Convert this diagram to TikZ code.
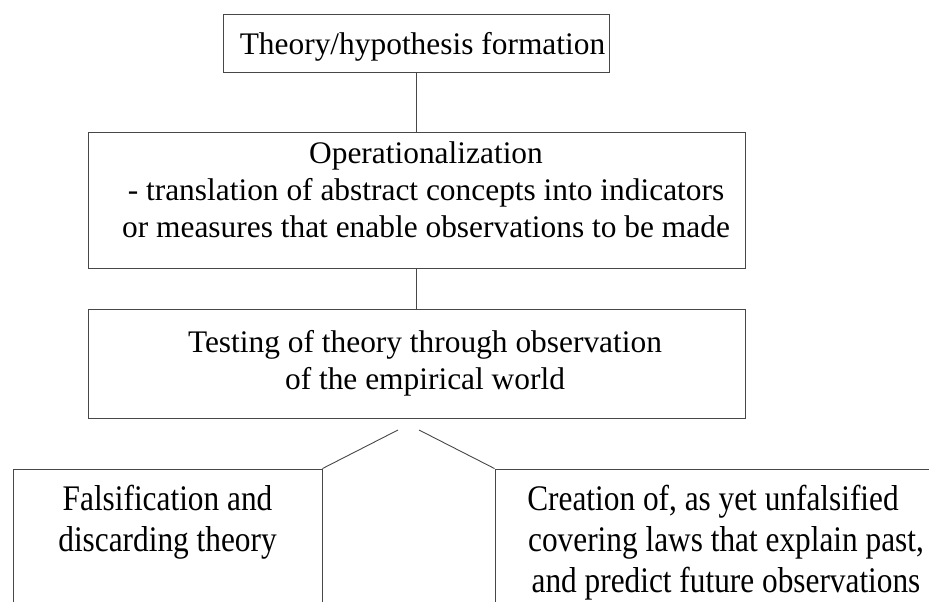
\documentclass[tikz,border=0pt]{standalone}
\usepackage{fontspec}
\setmainfont{Liberation Serif}
% narrower, taller serif used in the two outcome boxes
\newfontfamily\tallserif[FakeStretch=0.87]{Liberation Serif}
\begin{document}
\begin{tikzpicture}[x=1pt,y=-1pt,
  frame/.style={draw=black!72, line width=0.9pt, rectangle, inner sep=0pt},
  link/.style={draw=black!72, line width=0.9pt},
  body/.style={inner sep=0pt, align=center, font=\fontsize{31.4}{37}\selectfont},
  lower/.style={inner sep=0pt, align=center, font=\tallserif\fontsize{36}{41}\selectfont}]
\useasboundingbox (0,0) rectangle (929,602);
\clip (0,0) rectangle (929,602);

% boxes
\node[frame, minimum width=386pt, minimum height=58pt]  (theory) at (416,43) {};
\node[frame, minimum width=657pt, minimum height=136pt] (oper)   at (416.5,200) {};
\node[frame, minimum width=657pt, minimum height=109pt] (test)   at (416.5,363.5) {};
\node[frame, minimum width=309pt, minimum height=181pt] (fals)   at (167.5,559.5) {};
\node[frame, minimum width=465pt, minimum height=181pt] (cover)  at (727.5,559.5) {};

% box texts
\node[body] (theoryText) at (422.5,46.7) {Theory/hypothesis formation};
\node[body] (operText) at (426,189.5) {Operationalization\\ - translation of abstract concepts into indicators\\or measures that enable observations to be made};
\node[body] (testText) at (425,363.2) {Testing of theory through observation\\of the empirical world};
\node[lower] (falsText) at (167.5,522) {Falsification and\\discarding theory};
\node[lower] (coverText) at (726,542.6) {Creation of, as yet unfalsified\hspace*{26pt}\\covering laws that explain past,\\and predict future observations};

% connectors
\draw[link] (theory.south) -- (theory.south |- oper.north);
\draw[link] (oper.south -| theory.south) -- (theory.south |- test.north);
\coordinate (splitL) at (398,430);
\coordinate (splitR) at (419,430);
\draw[link] (splitL) -- (fals.north east);
\draw[link] (splitR) -- (cover.north west);
\end{tikzpicture}
\end{document}
